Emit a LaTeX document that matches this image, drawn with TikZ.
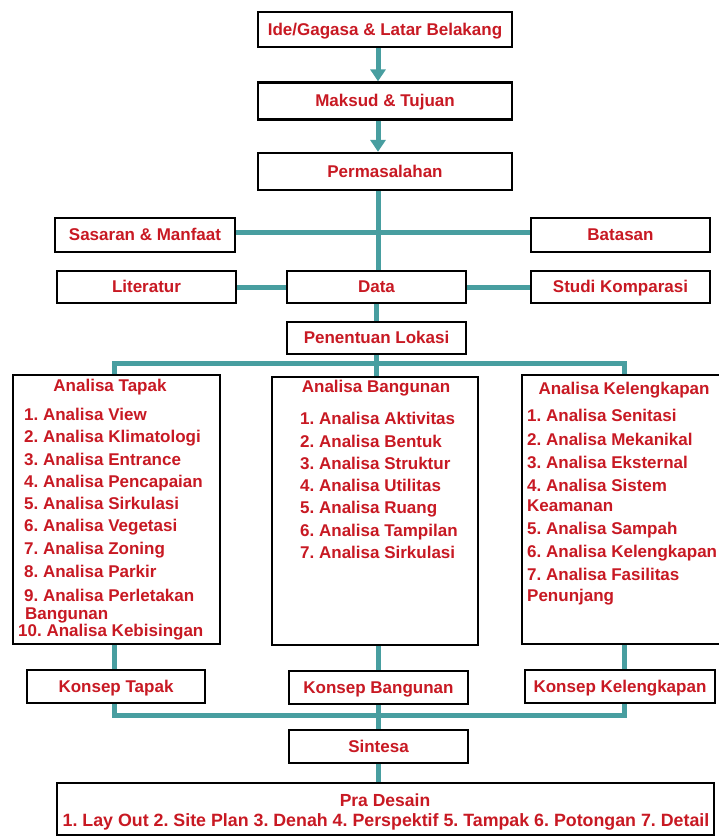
\documentclass[tikz,border=0pt]{standalone}
\usepackage{fontspec}
\setmainfont{Liberation Sans}
\usetikzlibrary{arrows.meta}
\definecolor{tred}{RGB}{200,25,35}
\definecolor{tteal}{RGB}{72,158,160}
\frenchspacing
\begin{document}
\frenchspacing
\begin{tikzpicture}[x=1pt,y=-1pt,
  box/.style={draw=black, line width=2.3pt, fill=white, text=tred,
    font=\fontsize{17}{20}\selectfont\bfseries, inner sep=0pt, rectangle,
    text height=13pt, text depth=2pt},
  item/.style={anchor=west, inner sep=0pt, text=tred,
    font=\fontsize{17}{20}\selectfont\bfseries, text height=12pt, text depth=3.5pt},
  conn/.style={draw=tteal, line width=5pt},
  arr/.style={conn, -{Triangle[width=15pt,length=12pt]}}]
\useasboundingbox[fill=white] (0,0) rectangle (719,836);

% top chain
\node[box, minimum width=254pt, minimum height=35pt] (ide) at (385,29.5) {Ide/Gagasa \& Latar Belakang};
\node[box, minimum width=254pt, minimum height=37pt] (maksud) at (385,101) {Maksud \& Tujuan};
\node[box, minimum width=254pt, minimum height=37pt] (perm) at (385,171.5) {Permasalahan};

\node[box, minimum width=180pt, minimum height=34pt] (sasaran) at (145,235) {Sasaran \& Manfaat};
\node[box, minimum width=179pt, minimum height=34pt] (batasan) at (620.5,235) {Batasan};

\node[box, minimum width=179pt, minimum height=32pt] (literatur) at (146.5,287) {Literatur};
\node[box, minimum width=179pt, minimum height=32pt] (data) at (376.5,287) {Data};
\node[box, minimum width=179pt, minimum height=32pt] (studi) at (620.5,287) {Studi Komparasi};

\node[box, minimum width=179pt, minimum height=32pt] (lokasi) at (376.5,338) {Penentuan Lokasi};

% big boxes
\node[box, minimum width=207pt, minimum height=269pt] (tapak) at (116.5,509.5) {};
\node[box, minimum width=206pt, minimum height=268pt] (bang) at (375,511) {};
\node[box, minimum width=202pt, minimum height=269pt] (kel) at (623,509.5) {};

% konsep
\node[box, minimum width=178pt, minimum height=33pt] (konsepT) at (116,686.5) {Konsep Tapak};
\node[box, minimum width=179pt, minimum height=33pt] (konsepB) at (378.5,687.5) {Konsep Bangunan};
\node[box, minimum width=190pt, minimum height=33pt] (konsepK) at (620,686.5) {Konsep Kelengkapan};

\node[box, minimum width=179pt, minimum height=33pt] (sintesa) at (378.5,746.5) {Sintesa};
\node[box, minimum width=657pt, minimum height=52pt] (pra) at (385.5,809) {};
\node[item, anchor=center, font=\fontsize{17.5}{20}\selectfont\bfseries] (praT) at (385,802) {Pra Desain};
\node[item, anchor=center, font=\fontsize{17.8}{20}\selectfont\bfseries] (praL) at (386,822) {1. Lay Out 2. Site Plan 3. Denah 4. Perspektif 5. Tampak 6. Potongan 7. Detail};

% Analisa Tapak text
\node[item, anchor=center] (tT) at (110,387) {Analisa Tapak};
\node[item] (t1) at (24,416) {1. Analisa View};
\node[item] (t2) at (24,438) {2. Analisa Klimatologi};
\node[item] (t3) at (24,461) {3. Analisa Entrance};
\node[item] (t4) at (24,483) {4. Analisa Pencapaian};
\node[item] (t5) at (24,505) {5. Analisa Sirkulasi};
\node[item] (t6) at (24,527) {6. Analisa Vegetasi};
\node[item] (t7) at (24,550) {7. Analisa Zoning};
\node[item] (t8) at (24,573) {8. Analisa Parkir};
\node[item] (t9) at (24,597) {9. Analisa Perletakan};
\node[item] (t9b) at (25,615) {Bangunan};
\node[item] (t10) at (18,632) {10. Analisa Kebisingan};

% Analisa Bangunan text
\node[item, anchor=center] (bT) at (376,388) {Analisa Bangunan};
\node[item] (b1) at (300,420) {1. Analisa Aktivitas};
\node[item] (b2) at (300,443) {2. Analisa Bentuk};
\node[item] (b3) at (300,465) {3. Analisa Struktur};
\node[item] (b4) at (300,487) {4. Analisa Utilitas};
\node[item] (b5) at (300,509) {5. Analisa Ruang};
\node[item] (b6) at (300,532) {6. Analisa Tampilan};
\node[item] (b7) at (300,554) {7. Analisa Sirkulasi};

% Analisa Kelengkapan text
\node[item, anchor=center] (kT) at (624,390) {Analisa Kelengkapan};
\node[item] (k1) at (527,417) {1. Analisa Senitasi};
\node[item] (k2) at (527,441) {2. Analisa Mekanikal};
\node[item] (k3) at (527,464) {3. Analisa Eksternal};
\node[item] (k4) at (527,487) {4. Analisa Sistem};
\node[item] (k4b) at (527,507) {Keamanan};
\node[item] (k5) at (527,530) {5. Analisa Sampah};
\node[item] (k6) at (527,553) {6. Analisa Kelengkapan};
\node[item] (k7) at (527,576) {7. Analisa Fasilitas};
\node[item] (k7b) at (527,597) {Penunjang};

% connectors
\draw[arr] ([xshift=-7pt]ide.south) -- ([xshift=-7pt]maksud.north);
\draw[arr] ([xshift=-7pt]maksud.south) -- ([xshift=-7pt]perm.north);
\draw[conn] ([xshift=-7pt]perm.south) -- ([xshift=-7pt]perm.south |- data.north);
\draw[conn] ([yshift=3pt]sasaran.east) -- ([yshift=3pt]batasan.west);
\draw[conn] (literatur.east) -- (data.west);
\draw[conn] (data.east) -- (studi.west);
\draw[conn] (data.south) -- (lokasi.north);

\coordinate (b1L) at (114,363);
\coordinate (b1R) at (624,363);
\draw[conn] (lokasi.south) -- (lokasi.south |- bang.north);
\draw[conn] (b1L |- tapak.north) -- (b1L) -- (b1R) -- (b1R |- kel.north);

\draw[conn] (b1L |- tapak.south) -- (b1L |- konsepT.north);
\draw[conn] ([xshift=3pt]bang.south) -- ([xshift=3pt]bang.south |- konsepB.north);
\draw[conn] (b1R |- kel.south) -- (b1R |- konsepK.north);

\coordinate (b2L) at (114,715);
\coordinate (b2R) at (624,715);
\draw[conn] (b1L |- konsepT.south) -- (b2L) -- (b2R) -- (b1R |- konsepK.south);
\draw[conn] (konsepB.south) -- (sintesa.north);
\draw[conn] (sintesa.south) -- (sintesa.south |- pra.north);
\end{tikzpicture}
\end{document}
